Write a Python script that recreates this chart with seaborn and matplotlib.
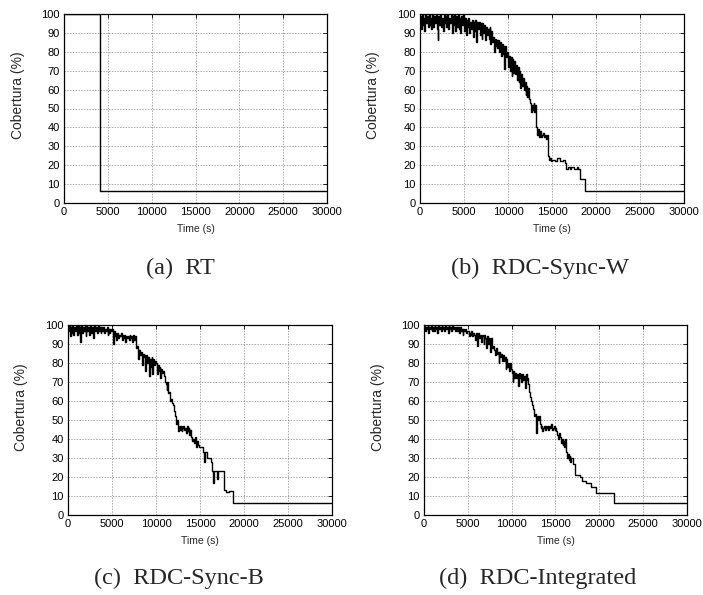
import numpy as np
import pandas as pd
import matplotlib
matplotlib.use("Agg")
import matplotlib.pyplot as plt
import seaborn as sns

sns.set_theme(style="white")
plt.rcParams['font.family'] = ['Liberation Sans', 'DejaVu Sans']

# ---------------- data ----------------
SAMPLE_STEP_S = 100  # sampling interval of the dense (oscillating) part

# (a) RT
rt_time = [0, 4100, 30000]
rt_cov = [100, 6.5, 6.5]

# (b) RDC-Sync-W : dense part sampled every 100 s from t=0
syncw_dense = [
    99, 92, 100, 94, 98, 91, 100, 95, 99, 93,
    100, 94, 98, 92, 100, 93, 99, 95, 100, 92,
    86, 99, 94, 100, 93, 98, 91, 100, 95, 99,
    93, 100, 92, 98, 95, 100, 90, 99, 94, 100,
    91, 99, 93, 100, 92, 98, 90, 99, 94, 100,
    91, 98, 89, 97, 93, 98, 90, 96, 92, 97,
    88, 96, 91, 97, 85, 96, 92, 96, 89, 95,
    87, 95, 90, 94, 86, 93, 89, 92, 87, 93,
    84, 91, 85, 88, 80, 87, 83, 86, 82, 86,
    80, 85, 78, 84, 79, 83, 71, 83, 77, 80,
    72, 78, 70, 77, 67, 76, 69, 75, 68, 73,
    65, 72, 64, 70, 61, 68, 62, 66, 60, 64,
    57, 62, 56, 61, 55, 53, 48, 52, 49, 53,
    48, 52, 40, 36, 39, 35, 38, 37, 35, 36,
    37, 35, 36, 34, 36, 26, 25, 23, 24, 22,
]
syncw_tail_time = [15000, 15300, 15600, 15900, 16200, 16500, 16600, 16800,
                   17000, 17200, 17500, 17800, 18000, 18200, 18700, 30000]
syncw_tail_cov = [23, 22, 24, 22, 23, 21, 18, 19, 18, 19, 18, 19, 18, 12.5, 6.5, 6.5]

# (c) RDC-Sync-B
syncb_dense = [
    97, 100, 94, 99, 96, 100, 95, 99, 97, 100,
    95, 100, 96, 99, 91, 100, 96, 99, 97, 100,
    94, 100, 97, 99, 95, 100, 96, 99, 93, 100,
    101, 97, 99, 96, 100, 97, 99, 96, 99, 97,
    99, 96, 98, 97, 99, 95, 98, 96, 98, 97,
    98, 90, 97, 94, 96, 92, 96, 93, 95, 94,
    96, 92, 95, 93, 95, 91, 94, 93, 94, 92,
    95, 93, 94, 91, 95, 92, 94, 88, 89, 86,
    82, 87, 84, 86, 79, 85, 83, 84, 76, 84,
    80, 83, 73, 82, 78, 83, 74, 82, 79, 81,
    80, 74, 79, 76, 78, 72, 77, 75, 76, 73,
    70, 69, 66, 70, 64, 65, 60, 61, 59, 58,
    56, 55, 52, 48, 50, 44, 47, 45, 47, 44,
    46, 47, 45, 46, 43, 47, 44, 46, 42, 45,
    41, 39, 40, 38, 41, 40, 36, 39, 37, 36,
]
syncb_tail_time = [15000, 15300, 15500, 15600, 15800, 16000, 16200, 16400, 16500,
                   16600, 16900, 17000, 17300, 17700, 18000, 18300, 18800, 30000]
syncb_tail_cov = [36, 33, 28, 33, 30, 30, 28, 23, 17, 23, 19, 23, 23, 13, 12, 12.5, 6.5, 6.5]

# (d) RDC-Integrated
integ_dense = [
    100, 97, 99, 98, 100, 96, 99, 98, 100, 97,
    99, 97, 100, 98, 99, 96, 100, 98, 99, 97,
    100, 98, 99, 97, 100, 98, 99, 96, 100, 98,
    99, 97, 100, 98, 99, 97, 98, 99, 97, 99,
    96, 99, 97, 98, 95, 98, 97, 98, 96, 97,
    97, 94, 96, 95, 97, 94, 96, 95, 92, 96,
    95, 89, 96, 93, 95, 91, 95, 94, 90, 95,
    93, 88, 94, 90, 93, 86, 93, 91, 88, 89,
    87, 84, 88, 85, 86, 80, 86, 83, 85, 81,
    84, 81, 83, 77, 82, 78, 80, 76, 80, 77,
    75, 70, 76, 72, 75, 72, 74, 68, 75, 72,
    74, 70, 74, 71, 73, 67, 74, 71, 72, 69,
    65, 62, 60, 58, 56, 55, 52, 53, 43, 52,
    50, 52, 48, 46, 47, 44, 46, 47, 45, 47,
    46, 47, 45, 47, 46, 48, 45, 46, 47, 45,
    46, 44, 42, 40, 43, 41, 38, 40, 37, 39,
    36, 40, 33, 30, 32, 29, 31, 28, 30, 30,
]
integ_tail_time = [17000, 17200, 17800, 18000, 18500, 19000, 19600, 21700, 30000]
integ_tail_cov = [27, 21, 20, 18, 17, 15, 11.5, 6.5, 6.5]

captions = ["(a)  RT", "(b)  RDC-Sync-W", "(c)  RDC-Sync-B", "(d)  RDC-Integrated"]
x_ticks = [0, 5000, 10000, 15000, 20000, 25000, 30000]
y_ticks = [0, 10, 20, 30, 40, 50, 60, 70, 80, 90, 100]


def series(dense, tail_t, tail_c):
    t = [i * SAMPLE_STEP_S for i in range(len(dense))] + list(tail_t)
    c = list(dense) + list(tail_c)
    return pd.DataFrame({"time": t, "cov": c})


frames = [
    pd.DataFrame({"time": rt_time, "cov": rt_cov}),
    series(syncw_dense, syncw_tail_time, syncw_tail_cov),
    series(syncb_dense, syncb_tail_time, syncb_tail_cov),
    series(integ_dense, integ_tail_time, integ_tail_cov),
]

# ---------------- layout ----------------
W, H = 703, 595
fig = plt.figure(figsize=(W / 100, H / 100), dpi=100)
fig.patch.set_facecolor("white")

boxes_px = [(64, 14, 327, 203), (420, 14, 684, 203),
            (68, 325, 332, 515), (424, 325, 687, 515)]
cap_pos = [(180, 268), (540, 268), (179, 578), (538, 578)]

for k, (df, (l, t, r, b)) in enumerate(zip(frames, boxes_px)):
    ax = fig.add_axes([l / W, 1 - b / H, (r - l) / W, (b - t) / H])
    ax.set_facecolor("white")
    sns.lineplot(data=df, x="time", y="cov", ax=ax, estimator=None, sort=False,
                 drawstyle="steps-post", color="black", linewidth=1.0)
    ax.set_xlim(0, 30000)
    ax.set_ylim(0, 100)
    ax.set_xticks(x_ticks)
    ax.set_yticks(y_ticks)
    ax.set_xticklabels([str(v) for v in x_ticks])
    ax.set_yticklabels([str(v) for v in y_ticks])
    ax.grid(True, color="#808080", linestyle=(0, (2, 2)), linewidth=0.5)
    ax.tick_params(direction="in", length=3, width=0.6, labelsize=8,
                   top=True, right=True, pad=3, colors="black")
    for s in ax.spines.values():
        s.set_visible(True)
        s.set_color("black")
        s.set_linewidth(0.9)
    ax.set_xlabel("Time (s)", fontsize=7.5, labelpad=5)
    ax.set_ylabel("Cobertura (%)", fontsize=10)
    ax.yaxis.set_label_coords(-0.15, 0.57)
    cx, cy = cap_pos[k]
    fig.text(cx / W, 1 - cy / H, captions[k], ha="center", va="center",
             fontsize=17.5, family="Liberation Serif")

fig.savefig("out.png", dpi=100, facecolor="white")
